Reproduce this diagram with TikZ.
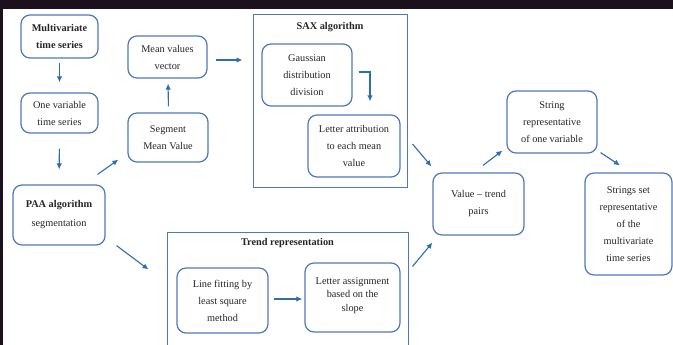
\documentclass[tikz,border=0pt]{standalone}
\usepackage{fontspec}
\setmainfont{Liberation Serif}
\usetikzlibrary{calc}
\usetikzlibrary{arrows.meta}
\usetikzlibrary{positioning}
\definecolor{boxblue}{RGB}{79, 120, 186}
\definecolor{arrowblue}{RGB}{46, 110, 175}
\definecolor{inkgray}{RGB}{38, 38, 38}
\definecolor{nightbg}{RGB}{28, 16, 28}

\begin{document}
\begin{tikzpicture}[x=1pt, y=-1pt,
        stage/.style={draw=boxblue, line width=1.2pt, rounded corners=9pt, fill=white, align=center, text=inkgray, inner sep=2pt, font=\fontsize{10.3}{17}\selectfont},
        frame/.style={draw=boxblue, line width=1pt, inner sep=0pt},
        title/.style={text=inkgray, font=\fontsize{10.3}{17}\selectfont\bfseries},
        arr/.style={draw=arrowblue, line width=1.1pt, -{Latex[length=6pt,width=5.5pt]}}]
            \useasboundingbox (0,0) rectangle (673,345);
            \fill[nightbg]  (0,0) rectangle (673,345);
            \fill[white]    (3,9) rectangle (673,345);
            \clip           (0,0) rectangle (673,345);
            \node[frame, minimum width=154, minimum height=172] (sax)   at (330.0, 101.0) {};
            \node[frame, minimum width=241, minimum height=124] (trend) at (287.5, 294.0) {};
            \node[title] (saxtitle)   at (330.0,  27.0) {SAX algorithm};
            \node[title] (trendtitle) at (287.5, 243.0) {Trend representation};
            \node[stage, minimum width=77, minimum height=43]  (multi)  at ( 59.5,  36.5) {\textbf{Multivariate}\\\textbf{time series}};
            \node[stage, minimum width=77, minimum height=40]  (onevar) at ( 59.5, 113.0) {One variable\\time series};
            \node[stage, minimum width=92, minimum height=60, font=\fontsize{10.3}{19}\selectfont] (paa) at ( 59.0, 215.0) {\textbf{PAA algorithm}\\segmentation};
            \node[stage, minimum width=79, minimum height=42]  (mean)   at (167.5,  57.0) {Mean values\\vector};
            \node[stage, minimum width=80, minimum height=49]  (seg)    at (168.0, 137.5) {Segment\\Mean Value};
            \node[stage, minimum width=90, minimum height=62]  (gauss)  at (307.0,  75.0) {Gaussian\\distribution\\division};
            \node[stage, minimum width=92, minimum height=62]  (letter) at (354.0, 146.0) {Letter attribution\\to each mean\\value};
            \node[stage, minimum width=91, minimum height=65]  (fit)    at (222.5, 300.5) {Line fitting by\\least square\\method};
            \node[stage, minimum width=95, minimum height=69, font=\fontsize{10.3}{13.5}\selectfont] (assign) at (352.5, 297.5) {Letter assignment\\based on the\\slope\\[-7.5pt]};
            \node[stage, minimum width=91, minimum height=62]  (vt)     at (478.5, 204.0) {Value -- trend\\pairs};
            \node[stage, minimum width=90, minimum height=62]  (str)    at (552.0, 122.0) {String\\representative\\of one variable};
            \node[stage, minimum width=87, minimum height=102] (strs)   at (628.5, 224.0) {Strings set\\representative\\of the\\multivariate\\time series};
            \draw[arr, shorten <=4pt,  shorten >=10pt] (multi) -- (onevar);
            \draw[arr, shorten <=15pt, shorten >=15pt] (onevar) -- (paa);
            \draw[arr] ([shift={(-8,-10)}]paa.north east) -- ([shift={(-9,-3)}]seg.south west);
            \draw[arr, shorten <=6pt,  shorten >=5pt] ([xshift=0.5pt]seg.north) -- ([xshift=0.5pt]mean.south);
            \draw[arr, shorten <=8pt,  shorten >=10pt] ([yshift=-3pt]mean.east) -- ([yshift=-3pt]mean.east -| sax.west);
            \draw[arr] ([shift={(6,-3)}]gauss.east) -| ([shift={(16,-13)}]letter.north);
            \draw[arr] ([shift={(5,43)}]sax.east) -- ([shift={(-1,-6)}]vt.north west);
            \draw[arr] ([shift={(4,35)}]trend.north east) -- ([shift={(0,7)}]vt.south west);
            \draw[arr] ([shift={(4.5,-7)}]vt.north) -- ([shift={(-4,-3)}]str.south west);
            \draw[arr] ([shift={(3,-1)}]str.south east) -- ([shift={(-8.5,-7)}]strs.north);
            \draw[arr] ([shift={(11,0)}]paa.south east) -- ([shift={(-18,38)}]trend.north west);
            \draw[arr, shorten <=5pt, shorten >=2pt] ([yshift=1.5pt]fit.east) -- ([yshift=1.5pt]fit.east -| assign.west);
        \end{tikzpicture}
\end{document}
